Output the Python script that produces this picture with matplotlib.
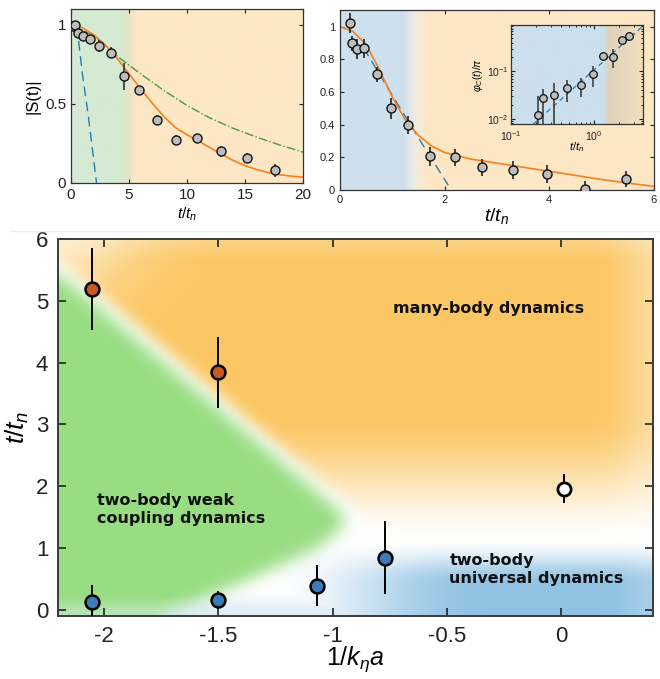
import numpy as np
import matplotlib
matplotlib.use('Agg')
import matplotlib.pyplot as plt
from matplotlib.lines import Line2D
from matplotlib.ticker import FormatStrFormatter, NullFormatter

plt.rcParams['font.family'] = ['Liberation Sans', 'DejaVu Sans']
plt.rcParams['mathtext.fontset'] = 'custom'
plt.rcParams['mathtext.rm'] = 'Liberation Sans'
plt.rcParams['mathtext.it'] = 'Liberation Sans:italic'
plt.rcParams['axes.unicode_minus'] = False

# ---- |S(t)| decay (top left)
s_t = [0.17, 0.34, 0.57, 1.0, 1.64, 2.44, 3.41, 4.56, 5.88, 7.37, 9.04, 10.9, 12.9, 15.15, 17.56]
s_val = [0.99, 1.0, 0.95, 0.926, 0.913, 0.866, 0.824, 0.675, 0.59, 0.40, 0.272, 0.282, 0.20, 0.157, 0.081]
s_err = [0.02, 0.02, 0.03, 0.03, 0.02, 0.035, 0.035, 0.085, 0.025, 0.03, 0.03, 0.025, 0.035, 0.03, 0.04]

s_fit_t = [0, 1, 2, 3, 4, 5, 6, 7, 8, 9, 10, 11, 12, 13, 14, 15, 16, 17, 18, 19, 20]
s_fit = [1.0, 0.98, 0.935, 0.87, 0.785, 0.69, 0.595, 0.505, 0.42, 0.35, 0.305, 0.265, 0.222,
         0.18, 0.142, 0.11, 0.085, 0.066, 0.052, 0.043, 0.037]
s_weak_t = [0, 2, 4, 6, 8, 10, 12, 14, 16, 18, 20]
s_weak = [1.0, 0.93, 0.80, 0.69, 0.585, 0.49, 0.41, 0.345, 0.29, 0.24, 0.195]
s_univ_t = [0.3, 0.6, 1.0, 1.5, 2.0, 2.2]
s_univ = [0.99, 0.93, 0.68, 0.42, 0.12, 0.0]

# ---- contrast decay (top right)
c_t = [0.19, 0.23, 0.32, 0.46, 0.70, 0.97, 1.31, 1.72, 2.20, 2.72, 3.31, 3.96, 4.69, 5.46]
c_val = [1.02, 0.897, 0.862, 0.866, 0.709, 0.499, 0.396, 0.206, 0.20, 0.14, 0.124, 0.099, 0.004, 0.068]
c_err = [0.06, 0.045, 0.063, 0.058, 0.046, 0.067, 0.055, 0.059, 0.054, 0.052, 0.055, 0.053, 0.05, 0.05]

c_fit_t = [0, 0.25, 0.5, 0.75, 1.0, 1.25, 1.5, 1.75, 2, 2.5, 3, 3.5, 4, 4.5, 5, 5.5, 6]
c_fit = [1.0, 0.97, 0.89, 0.74, 0.57, 0.43, 0.335, 0.27, 0.23, 0.19, 0.165, 0.14, 0.115,
         0.09, 0.065, 0.043, 0.023]
c_univ_t = [0.45, 1.0, 1.5, 2.07]
c_univ = [0.87, 0.58, 0.32, 0.03]

# ---- phase (inset, log-log)
phi_t = [0.21, 0.24, 0.33, 0.48, 0.70, 0.98, 1.29, 1.71, 2.15, 2.65]
phi_val = [0.0122, 0.0278, 0.0311, 0.0445, 0.0514, 0.088, 0.211, 0.204, 0.459, 0.557]
phi_lo = [0.0082, 0.0238, 0.0271, 0.0213, 0.0222, 0.0406, 0.03, 0.085, 0.05, 0.05]
phi_hi = [0.018, 0.015, 0.0246, 0.021, 0.022, 0.042, 0.04, 0.096, 0.06, 0.05]
phi_fit_t = [0.187, 3.84]
phi_fit = [0.0078, 0.88]

# ---- crossover times vs 1/k_n a (bottom)
univ_x = [-2.05, -1.5, -1.07, -0.77]
univ_y = [0.13, 0.16, 0.39, 0.84]
univ_err = [0.27, 0.15, 0.33, 0.59]
many_x = [-2.05, -1.5]
many_y = [5.19, 3.84]
many_err = [0.66, 0.57]
uni_x = [0.01]
uni_y = [1.96]
uni_err = [0.23]

# edge of the weak coupling wedge (x of the edge for given t/t_n)
edge_y = [-0.1, 0.05, 0.43, 0.97, 1.25, 1.5, 1.75, 6.0]
edge_x = [-1.7, -1.6, -1.36, -1.04, -0.94, -0.90, -0.98, -2.34]

ORANGE = np.array([251, 199, 100]) / 255.
GREEN = np.array([152, 221, 130]) / 255.
BLUE = np.array([146, 195, 228]) / 255.


def smoothstep(a, b, v):
    t = np.clip((v - a) / (b - a), 0, 1)
    return t * t * (3 - 2 * t)


def blur(a, s):
    k = np.arange(-3 * s, 3 * s + 1)
    k = np.exp(-0.5 * (k / s) ** 2)
    k /= k.sum()
    n = len(k) // 2
    f = lambda r: np.convolve(np.pad(r, n, mode='edge'), k, mode='valid')
    a = np.apply_along_axis(f, 1, a)
    a = np.apply_along_axis(f, 0, a)
    return a


def shade(ax, xlim, ylim, stops, cols):
    xs = np.linspace(xlim[0], xlim[1], 500)
    cols = np.array(cols) / 255.
    img = np.stack([np.interp(xs, stops, cols[:, i]) for i in range(3)], axis=-1)
    ax.imshow(img[None, :, :], extent=[xlim[0], xlim[1], ylim[0], ylim[1]],
              aspect='auto', interpolation='bilinear', zorder=0)


def style(ax, size):
    ax.tick_params(direction='in', top=True, right=True, labelsize=size,
                   length=3, width=0.8, colors='#222222')
    for sp in ax.spines.values():
        sp.set_color('#333333')
        sp.set_linewidth(0.9)


fig = plt.figure(figsize=(6.6, 6.79), dpi=100)

# top left
ax1 = fig.add_axes([0.1076, 0.7305, 0.3515, 0.2563])
shade(ax1, (0, 20), (0, 1.1), [0, 4.3, 5.0, 5.6, 20],
      [(213, 234, 211), (213, 234, 211), (232, 226, 198), (253, 231, 197), (253, 231, 197)])
ax1.plot(s_univ_t, s_univ, ls=(0, (7, 4)), color='#2a7ab8', lw=1.0, zorder=2)
ax1.plot(s_weak_t, s_weak, ls='-.', color='#4a9a3a', lw=1.0, zorder=2)
ax1.plot(s_fit_t, s_fit, '-', color='#f7801e', lw=1.2, zorder=2)
ax1.errorbar(s_t, s_val, yerr=s_err, fmt='o', ms=6.5, mfc='#bdbdbd', mec='#111111', mew=1.0,
             ecolor='#333333', elinewidth=1.2, capsize=0, zorder=3)
ax1.set_xlim(0, 20)
ax1.set_ylim(0, 1.1)
ax1.set_xticks([0, 5, 10, 15, 20])
ax1.set_yticks([0, 0.5, 1])
ax1.yaxis.set_major_formatter(FormatStrFormatter('%g'))
style(ax1, 11)
ax1.set_xlabel(r'$t/t_n$', fontsize=11)
ax1.xaxis.set_label_coords(0.5, -0.13)
ax1.set_ylabel('|S(t)|', fontsize=12)
ax1.yaxis.set_label_coords(-0.13, 0.5)

# top right
ax2 = fig.add_axes([0.515, 0.720, 0.4758, 0.265])
shade(ax2, (0, 6), (0, 1.1), [0, 1.2, 1.42, 1.65, 6],
      [(206, 224, 237), (206, 224, 237), (240, 236, 226), (253, 231, 197), (253, 231, 197)])
ax2.plot(c_univ_t, c_univ, ls=(0, (7, 4)), color='#2a7ab8', lw=1.0, zorder=2)
ax2.plot(c_fit_t, c_fit, '-', color='#f7801e', lw=1.2, zorder=2)
ax2.errorbar(c_t, c_val, yerr=c_err, fmt='o', ms=6.5, mfc='#bdbdbd', mec='#111111', mew=1.0,
             ecolor='#222222', elinewidth=1.2, capsize=0, zorder=3)
ax2.set_xlim(0, 6)
ax2.set_ylim(0, 1.1)
ax2.set_xticks([0, 2, 4, 6])
ax2.set_yticks([0, 0.2, 0.4, 0.6, 0.8, 1])
ax2.yaxis.set_major_formatter(FormatStrFormatter('%g'))
style(ax2, 8)
ax2.set_xlabel(r'$t/t_n$', fontsize=14)
ax2.xaxis.set_label_coords(0.5, -0.09)

# inset, drawn over a flat background axes
inset_rect = [0.7742, 0.8174, 0.2, 0.1458]
axb = fig.add_axes(inset_rect)
shade(axb, (np.log10(0.1), np.log10(3.9)), (0, 1),
      [np.log10(0.1), np.log10(1.3), np.log10(1.5), np.log10(3.9)],
      [(204, 223, 238), (204, 223, 238), (222, 210, 186), (242, 222, 188)])
axb.set_xlim(np.log10(0.1), np.log10(3.9))
axb.set_ylim(0, 1)
axb.axis('off')
ax3 = fig.add_axes(inset_rect)
ax3.patch.set_alpha(0)
ax3.set_xscale('log')
ax3.set_yscale('log')
ax3.plot(phi_fit_t, phi_fit, ls=(0, (4, 3)), color='#2a7ab8', lw=0.9, zorder=2)
ax3.errorbar(phi_t, phi_val, yerr=[phi_lo, phi_hi], fmt='o', ms=5.5, mfc='#bdbdbd',
             mec='#111111', mew=0.9, ecolor='#333333', elinewidth=1.1, capsize=0, zorder=3)
ax3.set_xlim(0.1, 3.9)
ax3.set_ylim(0.0078, 0.95)
ax3.set_xticks([0.1, 1])
ax3.set_yticks([0.01, 0.1])
ax3.xaxis.set_minor_formatter(NullFormatter())
ax3.yaxis.set_minor_formatter(NullFormatter())
style(ax3, 7.5)
ax3.tick_params(axis='y', pad=2)
ax3.tick_params(which='minor', direction='in', top=True, right=True, length=1.5, width=0.6)
ax3.set_xlabel(r'$t/t_n$', fontsize=8)
ax3.xaxis.set_label_coords(0.5, -0.16)
ax3.set_ylabel(r'$\varphi_C(t)/\pi$', fontsize=7.5)
ax3.yaxis.set_label_coords(-0.2, 0.5)

# faint separator
fig.add_artist(Line2D([0.015, 1.0], [0.66, 0.66], color='#ececec', lw=1.0))

# bottom: phase diagram
ax = fig.add_axes([0.0879, 0.0928, 0.9015, 0.5552])
xlim = (-2.2, 0.4)
ylim = (-0.1, 6)
gx = np.linspace(xlim[0], xlim[1], 595)
gy = np.linspace(ylim[0], ylim[1], 377)
X, Y = np.meshgrid(gx, gy)
gap = 0.04
x_edge = np.interp(Y, edge_y, edge_x)
x_upper = -0.91 - (Y - 1.51) / 3.14
m_green = (X < x_edge - gap).astype(float)
m_orange = (X > x_upper + gap).astype(float)

o = blur(m_orange, 7) * smoothstep(1.0, 3.2, Y)
o *= 1 - 0.35 * smoothstep(0.05, 0.42, X) ** 2
o *= 1 - 0.25 * smoothstep(5.6, 6.1, Y)
o *= 1 - 0.6 * np.exp(-(((X + 2.2) / 0.35) ** 2 + ((Y - 6.0) / 0.9) ** 2))
b = smoothstep(-1.3, -0.35, X) * (1 - smoothstep(0.4, 1.15, Y))
b *= 1 - 0.2 * smoothstep(0.2, 0.42, X)
b = np.maximum(b, 0.3 * (1 - smoothstep(-0.1, 0.35, Y)))
g = blur(m_green, 8) * (1 - 0.45 * (1 - smoothstep(-0.1, 0.25, Y)))

img = np.ones(X.shape + (3,))
for w, c in [(o, ORANGE), (b, BLUE), (g, GREEN)]:
    img = img * (1 - w[..., None]) + c * w[..., None]
ax.imshow(img, origin='lower', extent=[xlim[0], xlim[1], ylim[0], ylim[1]],
          aspect='auto', interpolation='bilinear', zorder=0)

ax.errorbar(univ_x, univ_y, yerr=univ_err, fmt='o', ms=10, mfc='#3b7bb8', mec='black', mew=1.8,
            ecolor='black', elinewidth=1.4, capsize=0, zorder=3)
ax.errorbar(many_x, many_y, yerr=many_err, fmt='o', ms=10, mfc='#c65a27', mec='black', mew=1.8,
            ecolor='black', elinewidth=1.4, capsize=0, zorder=3)
ax.errorbar(uni_x, uni_y, yerr=uni_err, fmt='o', ms=9.5, mfc='white', mec='black', mew=2.0,
            ecolor='black', elinewidth=1.4, capsize=0, zorder=3)

bold = dict(family='DejaVu Sans', fontweight='bold', fontsize=11.5, color='#111111')
ax.text(-0.32, 4.88, 'many-body dynamics', ha='center', va='center', **bold)
ax.text(-2.03, 1.62, 'two-body weak\ncoupling dynamics', ha='left', va='center',
        linespacing=1.25, **bold)
ax.text(-0.49, 0.65, 'two-body\nuniversal dynamics', ha='left', va='center',
        linespacing=1.25, **bold)

ax.set_xlim(xlim)
ax.set_ylim(ylim)
ax.set_xticks([-2, -1.5, -1, -0.5, 0])
ax.set_xticklabels(['-2', '-1.5', '-1', '-0.5', '0'])
ax.set_yticks([0, 1, 2, 3, 4, 5, 6])
ax.tick_params(direction='in', top=True, right=True, labelsize=16, length=6, width=1.2,
               colors='#222222', pad=7)
for sp in ax.spines.values():
    sp.set_color('#3a3a3a')
    sp.set_linewidth(1.4)
ax.set_xlabel(r'$1/k_\eta a$', fontsize=18)
ax.xaxis.set_label_coords(0.5, -0.075)
ax.set_ylabel(r'$t/t_n$', fontsize=19)
ax.yaxis.set_label_coords(-0.045, 0.5)

fig.savefig('out.png', dpi=100)
